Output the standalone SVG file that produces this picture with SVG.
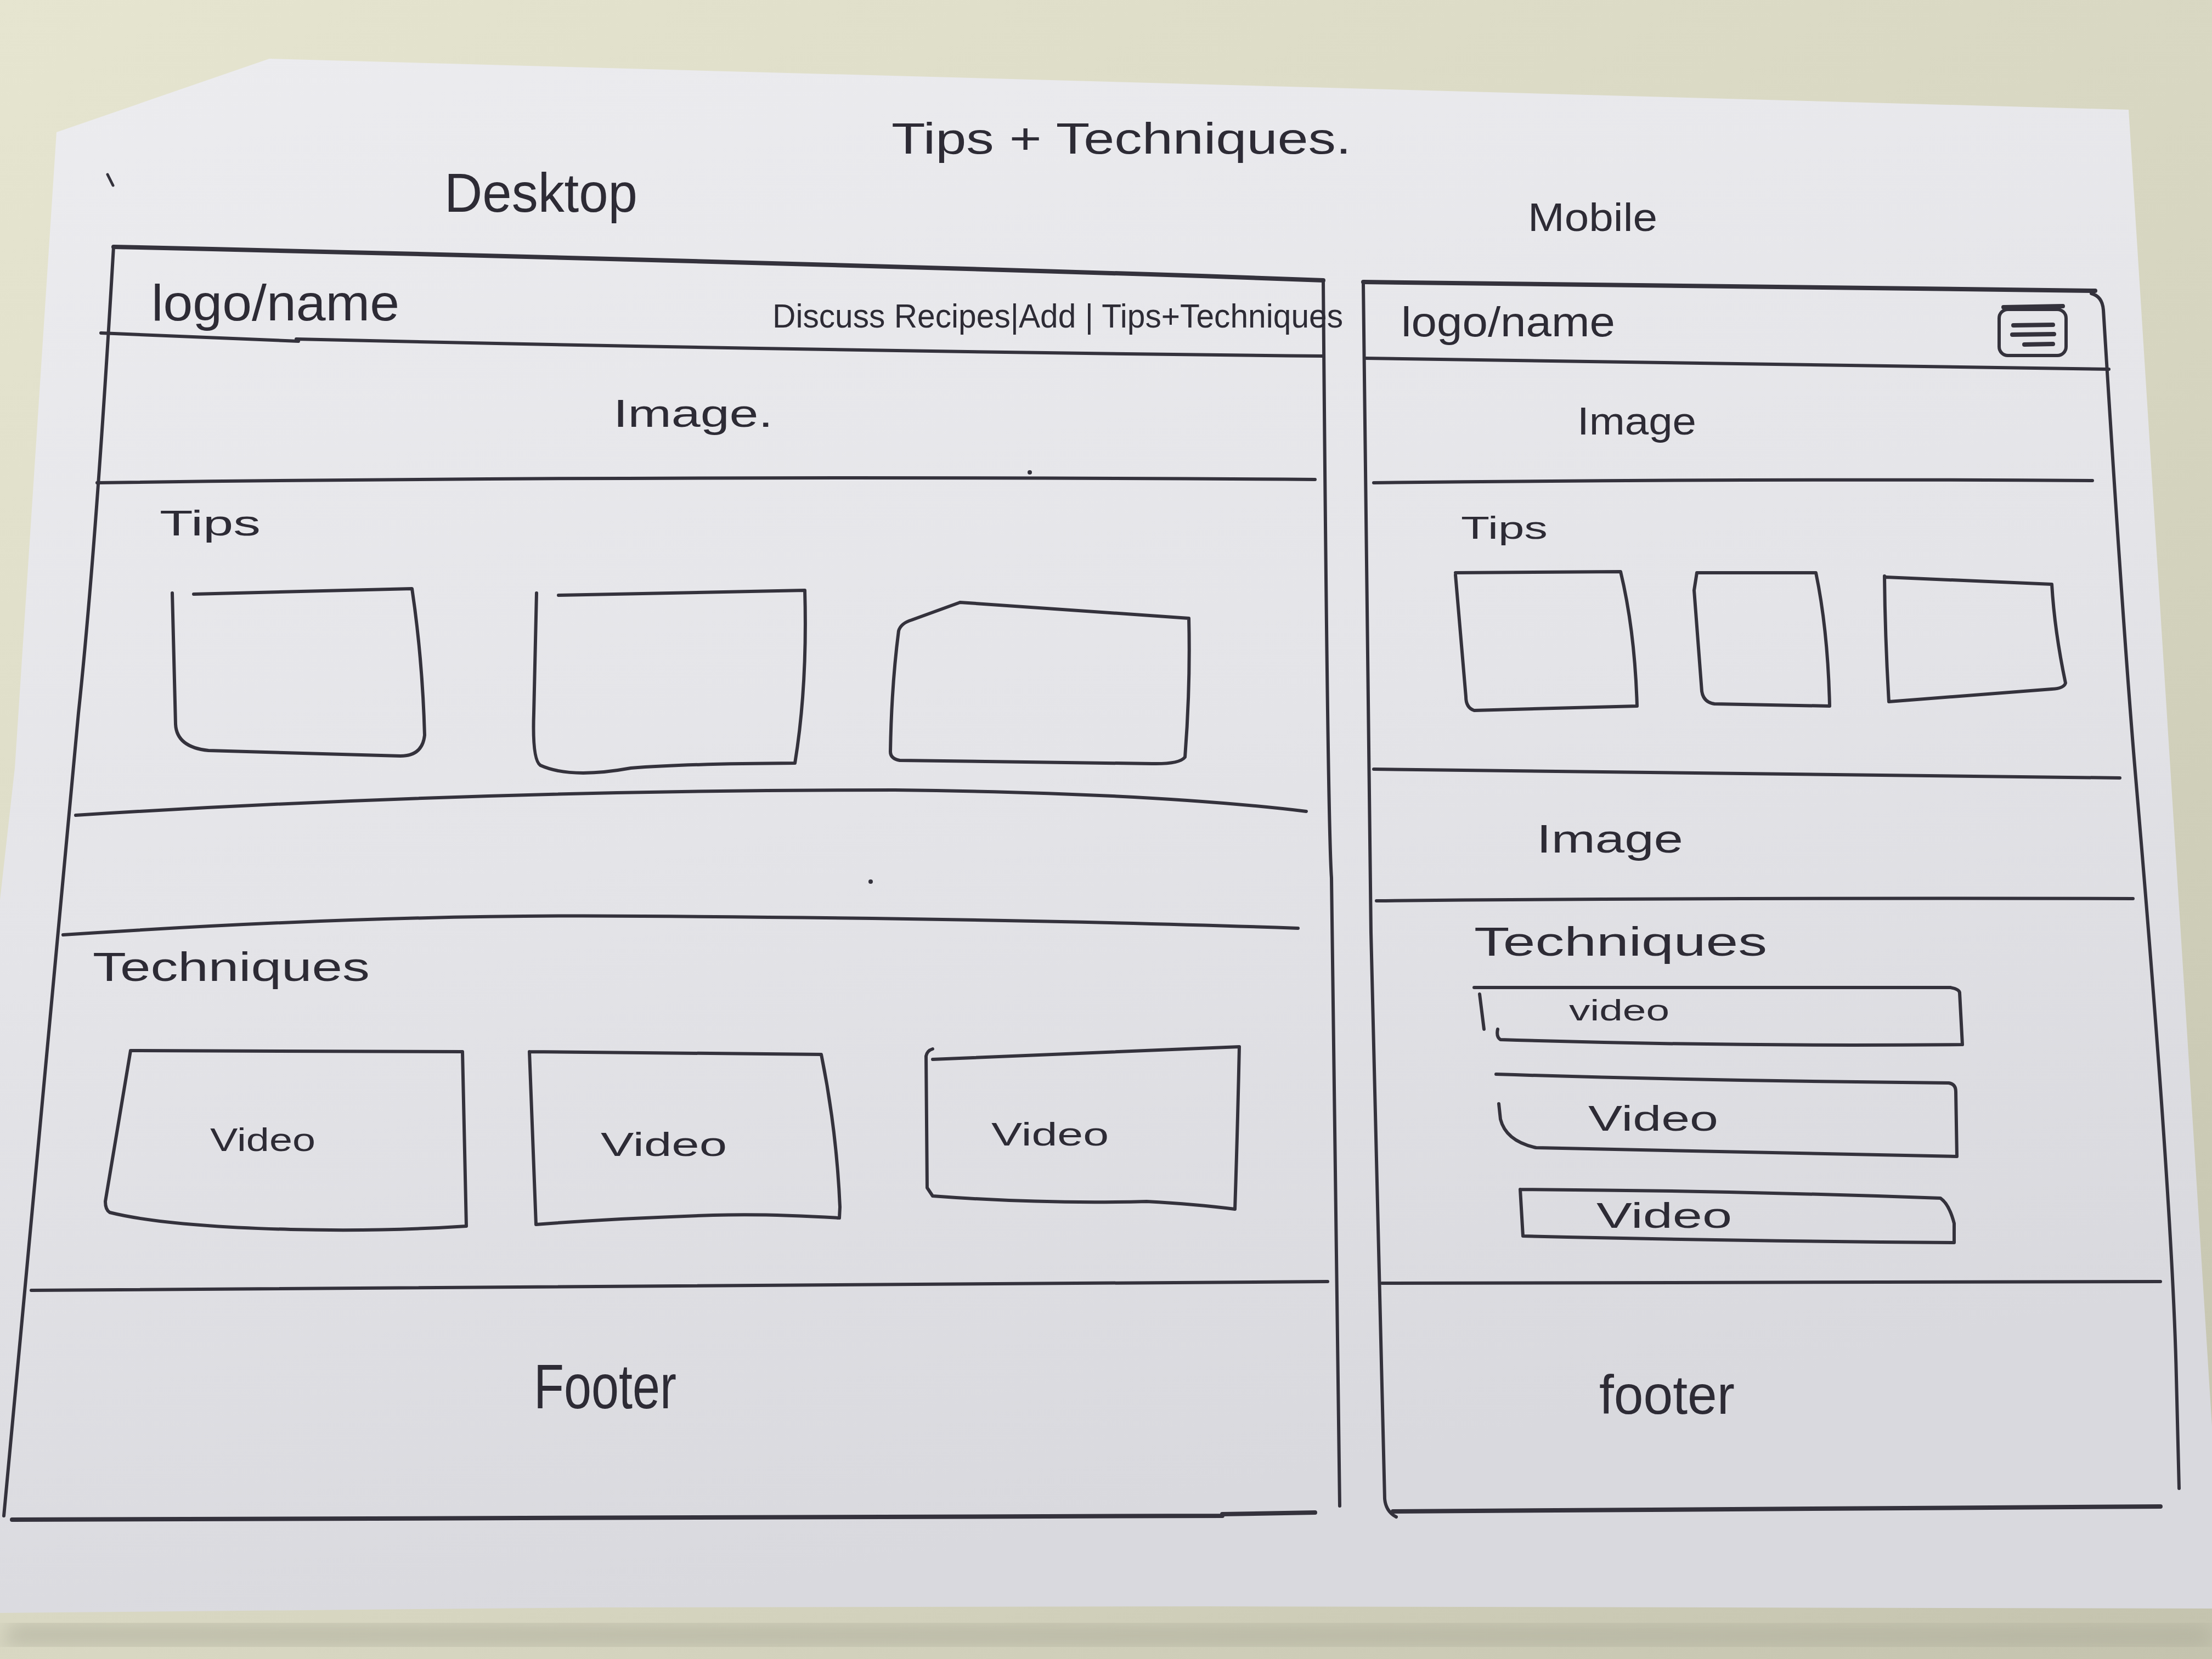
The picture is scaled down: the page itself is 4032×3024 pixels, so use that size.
<svg xmlns="http://www.w3.org/2000/svg" width="4032" height="3024" viewBox="0 0 4032 3024">
  <defs>
    <linearGradient id="desk" x1="0" y1="0" x2="1" y2="1">
      <stop offset="0" stop-color="#e6e5d0"/>
      <stop offset="0.6" stop-color="#d6d5c0"/>
      <stop offset="1" stop-color="#c4c3ae"/>
    </linearGradient>
    <linearGradient id="paper" x1="0" y1="0" x2="0.3" y2="1">
      <stop offset="0" stop-color="#ececef"/>
      <stop offset="0.55" stop-color="#e4e4e8"/>
      <stop offset="1" stop-color="#d9d9de"/>
    </linearGradient>
    <filter id="soft" x="-5%" y="-5%" width="110%" height="110%">
      <feGaussianBlur stdDeviation="18"/>
    </filter>
    <style>
      .pen { fill: none; stroke: #34323c; stroke-width: 6; stroke-linecap: round; stroke-linejoin: round; }
      .thin { stroke-width: 5; }
      .bold { stroke-width: 8; }
      .hand { font-family: "Liberation Sans", "DejaVu Sans", sans-serif; fill: #2d2b35; }
    </style>
  </defs>

  <!-- table surface -->
  <rect x="0" y="0" width="4032" height="3024" fill="url(#desk)"/>

  <!-- paper sheet with a soft shadow along its lower edge -->
  <path d="M20,2960 L4032,2965 L4032,3000 L0,3000 Z" fill="#a9a896" opacity="0.6" filter="url(#soft)"/>
  <path d="M103,241 L491,107 L3880,200 L4032,2600 L4032,2932 L2200,2928 L1100,2930 L0,2940 L0,1640 L27,1400 Z" fill="url(#paper)"/>

  <!-- stray pen marks -->
  <path class="pen thin" d="M196,318 L206,338"/>
  <circle cx="1877" cy="861" r="4" fill="#34323c"/>
  <circle cx="1587" cy="1607" r="4" fill="#34323c"/>

  <!-- page headings -->
  <g id="title">
    <text class="hand" x="1625" y="280" font-size="80" textLength="838" lengthAdjust="spacingAndGlyphs">Tips + Techniques.</text>
  </g>
  <g id="label-desktop">
    <text class="hand" x="810" y="386" font-size="100" textLength="352" lengthAdjust="spacingAndGlyphs">Desktop</text>
  </g>
  <g id="label-mobile">
    <text class="hand" x="2785" y="421" font-size="72" textLength="236" lengthAdjust="spacingAndGlyphs">Mobile</text>
  </g>

  <!-- frame and section dividers -->
  <g id="connectors">
    <!-- desktop outline -->
    <path class="pen bold" d="M207,450 Q1200,472 2190,503 L2412,511"/>
    <path class="pen" d="M207,450 Q175,1000 143,1300 Q80,2000 7,2763"/>
    <path class="pen" d="M2412,511 Q2420,1500 2427,1600 L2442,2745"/>
    <path class="pen" d="M184,607 L544,622 M540,618 Q1500,640 2412,649"/>
    <path class="pen" d="M177,880 Q1200,866 2397,874"/>
    <path class="pen" d="M138,1486 Q866,1440 1631,1440 Q2100,1445 2381,1479"/>
    <path class="pen" d="M115,1704 Q700,1665 1172,1670 Q1900,1675 2366,1692"/>
    <path class="pen" d="M57,2352 Q1200,2340 2420,2336"/>
    <path class="pen bold" d="M22,2770 L2228,2763 M2228,2760 L2397,2757"/>

    <!-- mobile outline -->
    <path class="pen bold" d="M2485,514 Q3200,520 3819,530"/>
    <path class="pen" d="M2485,518 Q2490,1100 2499,1700 Q2515,2300 2524,2732 Q2526,2755 2545,2765"/>
    <path class="pen" d="M3812,535 Q3832,540 3834,565 Q3870,1150 3893,1418 Q3960,2200 3967,2510 L3972,2713"/>
    <path class="pen" d="M2490,653 Q3200,665 3844,673"/>
    <path class="pen" d="M2504,880 Q3200,872 3814,876"/>
    <path class="pen" d="M2504,1402 Q3200,1408 3864,1418"/>
    <path class="pen" d="M2509,1642 Q3200,1636 3888,1638"/>
    <path class="pen" d="M2519,2339 Q3200,2336 3938,2336"/>
    <path class="pen bold" d="M2539,2755 Q3200,2748 3938,2746"/>
  </g>

  <!-- desktop layout -->
  <g id="d-header">
    <text class="hand" x="276" y="584" font-size="92" textLength="452" lengthAdjust="spacingAndGlyphs">logo/name</text>
    <text class="hand" x="1408" y="597" font-size="62" textLength="1040" lengthAdjust="spacingAndGlyphs">Discuss Recipes|Add | Tips+Techniques</text>
  </g>
  <g id="d-image">
    <text class="hand" x="1118" y="778" font-size="70" textLength="291" lengthAdjust="spacingAndGlyphs">Image.</text>
  </g>
  <g id="d-tips">
    <text class="hand" x="291" y="976" font-size="64" textLength="184" lengthAdjust="spacingAndGlyphs">Tips</text>
  </g>
  <g id="d-tip-1">
    <path class="pen" d="M353,1083 L751,1073 Q770,1200 774,1340 Q770,1378 730,1378 L380,1368 Q322,1362 320,1320 L314,1081"/>
  </g>
  <g id="d-tip-2">
    <path class="pen" d="M1018,1085 L1467,1076 Q1472,1250 1449,1391 Q1250,1392 1150,1400 Q1040,1420 985,1395 Q970,1385 973,1300 L978,1081"/>
  </g>
  <g id="d-tip-3">
    <path class="pen" d="M1750,1098 L2167,1127 Q2170,1250 2160,1380 Q2150,1393 2100,1392 L1640,1386 Q1623,1383 1623,1370 Q1625,1250 1638,1150 Q1642,1136 1662,1130 L1750,1098"/>
  </g>
  <g id="d-techniques">
    <text class="hand" x="169" y="1788" font-size="74" textLength="505" lengthAdjust="spacingAndGlyphs">Techniques</text>
  </g>
  <g id="d-video-1">
    <path class="pen" d="M238,1915 L843,1917 Q846,2080 850,2235 Q700,2245 530,2241 Q300,2235 200,2210 Q192,2205 192,2190 L238,1915"/>
    <text class="hand" x="383" y="2098" font-size="60" textLength="192" lengthAdjust="spacingAndGlyphs">Video</text>
  </g>
  <g id="d-video-2">
    <path class="pen" d="M965,1917 L1497,1922 Q1525,2060 1531,2200 L1530,2220 Q1400,2212 1300,2215 Q1100,2222 977,2232 L965,1917"/>
    <text class="hand" x="1095" y="2107" font-size="62" textLength="230" lengthAdjust="spacingAndGlyphs">Video</text>
  </g>
  <g id="d-video-3">
    <path class="pen" d="M1700,1931 L2259,1908 Q2256,2050 2251,2204 Q2180,2195 2090,2190 Q1900,2195 1700,2180 L1690,2165 L1688,1925 Q1690,1915 1700,1912"/>
    <text class="hand" x="1807" y="2088" font-size="60" textLength="214" lengthAdjust="spacingAndGlyphs">Video</text>
  </g>
  <g id="d-footer">
    <text class="hand" x="973" y="2567" font-size="115" textLength="260" lengthAdjust="spacingAndGlyphs">Footer</text>
  </g>

  <!-- mobile layout -->
  <g id="m-header">
    <text class="hand" x="2554" y="613" font-size="76" textLength="390" lengthAdjust="spacingAndGlyphs">logo/name</text>
  </g>
  <g id="m-menu">
    <rect class="pen" x="3644" y="564" width="122" height="84" rx="16"/>
    <path class="pen bold" d="M3652,560 L3760,558"/>
    <path class="pen bold" d="M3670,593 L3742,592 M3668,610 L3744,609 M3690,628 L3742,627"/>
  </g>
  <g id="m-image">
    <text class="hand" x="2875" y="792" font-size="70" textLength="217" lengthAdjust="spacingAndGlyphs">Image</text>
  </g>
  <g id="m-tips">
    <text class="hand" x="2663" y="982" font-size="58" textLength="158" lengthAdjust="spacingAndGlyphs">Tips</text>
  </g>
  <g id="m-tip-1">
    <path class="pen" d="M2653,1044 L2954,1042 Q2980,1150 2984,1287 L2687,1295 Q2672,1290 2672,1270 L2653,1048"/>
  </g>
  <g id="m-tip-2">
    <path class="pen" d="M3093,1044 L3310,1044 Q3332,1150 3335,1287 L3125,1283 Q3105,1280 3102,1260 L3088,1076 L3093,1044"/>
  </g>
  <g id="m-tip-3">
    <path class="pen" d="M3438,1052 L3740,1065 Q3745,1150 3765,1245 Q3762,1255 3740,1256 L3443,1279 Q3436,1160 3435,1050"/>
  </g>
  <g id="m-image-2">
    <text class="hand" x="2801" y="1554" font-size="72" textLength="267" lengthAdjust="spacingAndGlyphs">Image</text>
  </g>
  <g id="m-techniques">
    <text class="hand" x="2687" y="1742" font-size="74" textLength="534" lengthAdjust="spacingAndGlyphs">Techniques</text>
  </g>
  <g id="m-video-1">
    <path class="pen" d="M2687,1800 L3555,1800 Q3572,1803 3572,1810 L3577,1904 Q3150,1908 2735,1895 Q2727,1890 2730,1876 M2697,1812 L2705,1876"/>
    <text class="hand" x="2860" y="1860" font-size="54" textLength="183" lengthAdjust="spacingAndGlyphs">video</text>
  </g>
  <g id="m-video-2">
    <path class="pen" d="M2727,1958 Q3100,1970 3552,1974 Q3565,1976 3565,1990 L3567,2108 Q3150,2100 2800,2092 Q2745,2080 2735,2040 L2732,2012"/>
    <text class="hand" x="2895" y="2061" font-size="64" textLength="237" lengthAdjust="spacingAndGlyphs">Video</text>
  </g>
  <g id="m-video-3">
    <path class="pen" d="M2771,2168 Q3150,2170 3537,2184 Q3553,2195 3562,2230 L3562,2265 Q3150,2262 2776,2253 L2771,2168"/>
    <text class="hand" x="2910" y="2238" font-size="64" textLength="247" lengthAdjust="spacingAndGlyphs">Video</text>
  </g>
  <g id="m-footer">
    <text class="hand" x="2915" y="2577" font-size="100" textLength="247" lengthAdjust="spacingAndGlyphs">footer</text>
  </g>
</svg>
